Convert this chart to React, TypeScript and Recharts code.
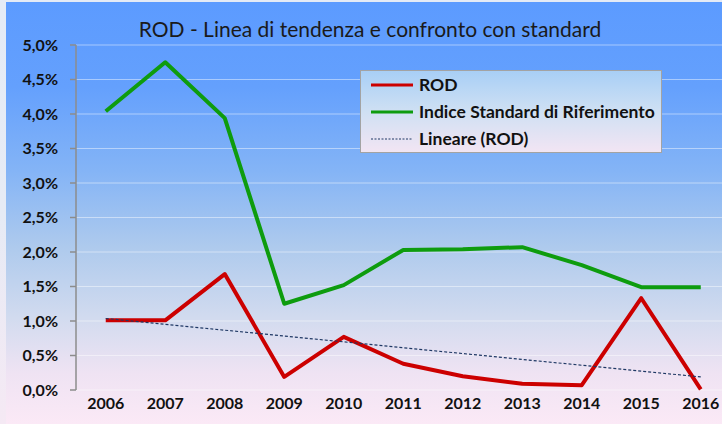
import { LineChart, Line, XAxis, YAxis, CartesianGrid } from 'recharts';

const years = [2006, 2007, 2008, 2009, 2010, 2011, 2012, 2013, 2014, 2015, 2016];
const rodValues = [1.01, 1.01, 1.68, 0.19, 0.77, 0.38, 0.2, 0.09, 0.07, 1.33, 0.01];
const standardValues = [4.04, 4.75, 3.94, 1.25, 1.52, 2.03, 2.04, 2.07, 1.81, 1.49, 1.49];
const yTicks = [0, 0.5, 1, 1.5, 2, 2.5, 3, 3.5, 4, 4.5, 5];
const boundaryTicks = [2005.5, 2006.5, 2007.5, 2008.5, 2009.5, 2010.5, 2011.5, 2012.5, 2013.5, 2014.5, 2015.5, 2016.5];

// linear trend of ROD (least squares), like Excel's "Lineare"
const n = years.length;
const meanX = years.reduce((a, b) => a + b, 0) / n;
const meanY = rodValues.reduce((a, b) => a + b, 0) / n;
const slope =
  years.reduce((s, x, i) => s + (x - meanX) * (rodValues[i] - meanY), 0) /
  years.reduce((s, x) => s + (x - meanX) * (x - meanX), 0);

const data = years.map((year, i) => ({
  year,
  rod: rodValues[i],
  standard: standardValues[i],
  trend: meanY + slope * (year - meanX),
}));

const font = 'Lato, "Open Sans", sans-serif';

const series = [
  { key: 'rod', name: 'ROD', color: '#cc0000', width: 4, dash: undefined },
  { key: 'standard', name: 'Indice Standard di Riferimento', color: '#0e9c0e', width: 4, dash: undefined },
  { key: 'trend', name: 'Lineare (ROD)', color: '#1f3864', width: 1.2, dash: '3 2' },
];

function ChartLegend() {
  return (
    <div
      style={{
        position: 'absolute',
        left: 360,
        top: 70,
        width: 302,
        height: 83,
        boxSizing: 'border-box',
        border: '1px solid #a3a3a3',
        background: 'linear-gradient(to bottom, #a8cff6 0%, #cfe0f3 50%, #f2e5f3 100%)',
        padding: '0px 0 0 9px',
      }}
    >
      {series.map((s) => (
        <div key={s.key} style={{ display: 'flex', alignItems: 'center', height: 27 }}>
          <svg width={44} height={6} style={{ marginRight: 5 }}>
            <line
              x1={1}
              y1={3}
              x2={43}
              y2={3}
              stroke={s.color}
              strokeWidth={s.dash ? 1 : 3}
              strokeDasharray={s.dash ? '2 1.5' : undefined}
            />
          </svg>
          <span style={{ fontFamily: font, fontWeight: 700, fontSize: 17.5, color: '#111', lineHeight: '20px' }}>
            {s.name}
          </span>
        </div>
      ))}
    </div>
  );
}

export default function App() {
  return (
    <div
      style={{
        position: 'absolute',
        left: 0,
        top: 0,
        width: 722,
        height: 424,
        overflow: 'hidden',
        background: 'linear-gradient(to bottom, #e4ebf6 0%, #e6ebf5 50%, #f5e9f4 100%)',
      }}
    >
      <div
        style={{
          position: 'absolute',
          left: 6,
          top: 2,
          right: 0,
          bottom: 0,
          background:
            'linear-gradient(to bottom, #5c9bff 0%, #64a0fd 20%, #84b4f6 40%, #aecaed 58%, #d2dbef 75%, #efe3f3 88%, #fbe9f6 100%)',
        }}
      />
      <div
        style={{
          position: 'absolute',
          left: 0,
          top: 16,
          width: 740,
          textAlign: 'center',
          fontFamily: font,
          fontSize: 21,
          color: '#1a1a1a',
        }}
      >
        ROD - Linea di tendenza e confronto con standard
      </div>
      <div style={{ position: 'absolute', left: 0, top: 0 }}>
        <LineChart width={740} height={424} data={data} margin={{ top: 45, right: 9.5, left: 0, bottom: 4 }}>
          <CartesianGrid horizontal vertical={false} stroke="#ffffff" strokeOpacity={0.45} />
          <XAxis
            xAxisId="ticks"
            dataKey="year"
            type="number"
            domain={[2005.5, 2016.5]}
            ticks={boundaryTicks}
            tickFormatter={() => ''}
            height={0}
            tickSize={5}
            axisLine={{ stroke: '#8c8c8c', strokeWidth: 1.5 }}
            tickLine={{ stroke: '#8c8c8c', strokeWidth: 1.5 }}
          />
          <XAxis
            xAxisId="labels"
            dataKey="year"
            type="number"
            domain={[2005.5, 2016.5]}
            ticks={years}
            interval={0}
            height={30}
            axisLine={false}
            tickLine={false}
            tick={{ fill: '#111', fontSize: 16, fontWeight: 700, fontFamily: font }}
          />
          <YAxis
            width={76}
            domain={[0, 5]}
            ticks={yTicks}
            interval={0}
            tickSize={6}
            tickMargin={12}
            tickFormatter={(v: number) => v.toFixed(1).replace('.', ',') + '%'}
            axisLine={{ stroke: '#8c8c8c', strokeWidth: 1.5 }}
            tickLine={{ stroke: '#8c8c8c', strokeWidth: 1.5 }}
            tick={{ fill: '#111', fontSize: 16, fontWeight: 700, fontFamily: font }}
          />
          {series.map((s) => (
            <Line
              key={s.key}
              xAxisId="labels"
              type="linear"
              dataKey={s.key}
              name={s.name}
              stroke={s.color}
              strokeWidth={s.width}
              strokeDasharray={s.dash}
              strokeLinejoin="round"
              dot={false}
              isAnimationActive={false}
            />
          ))}
        </LineChart>
      </div>
      <ChartLegend />
    </div>
  );
}
